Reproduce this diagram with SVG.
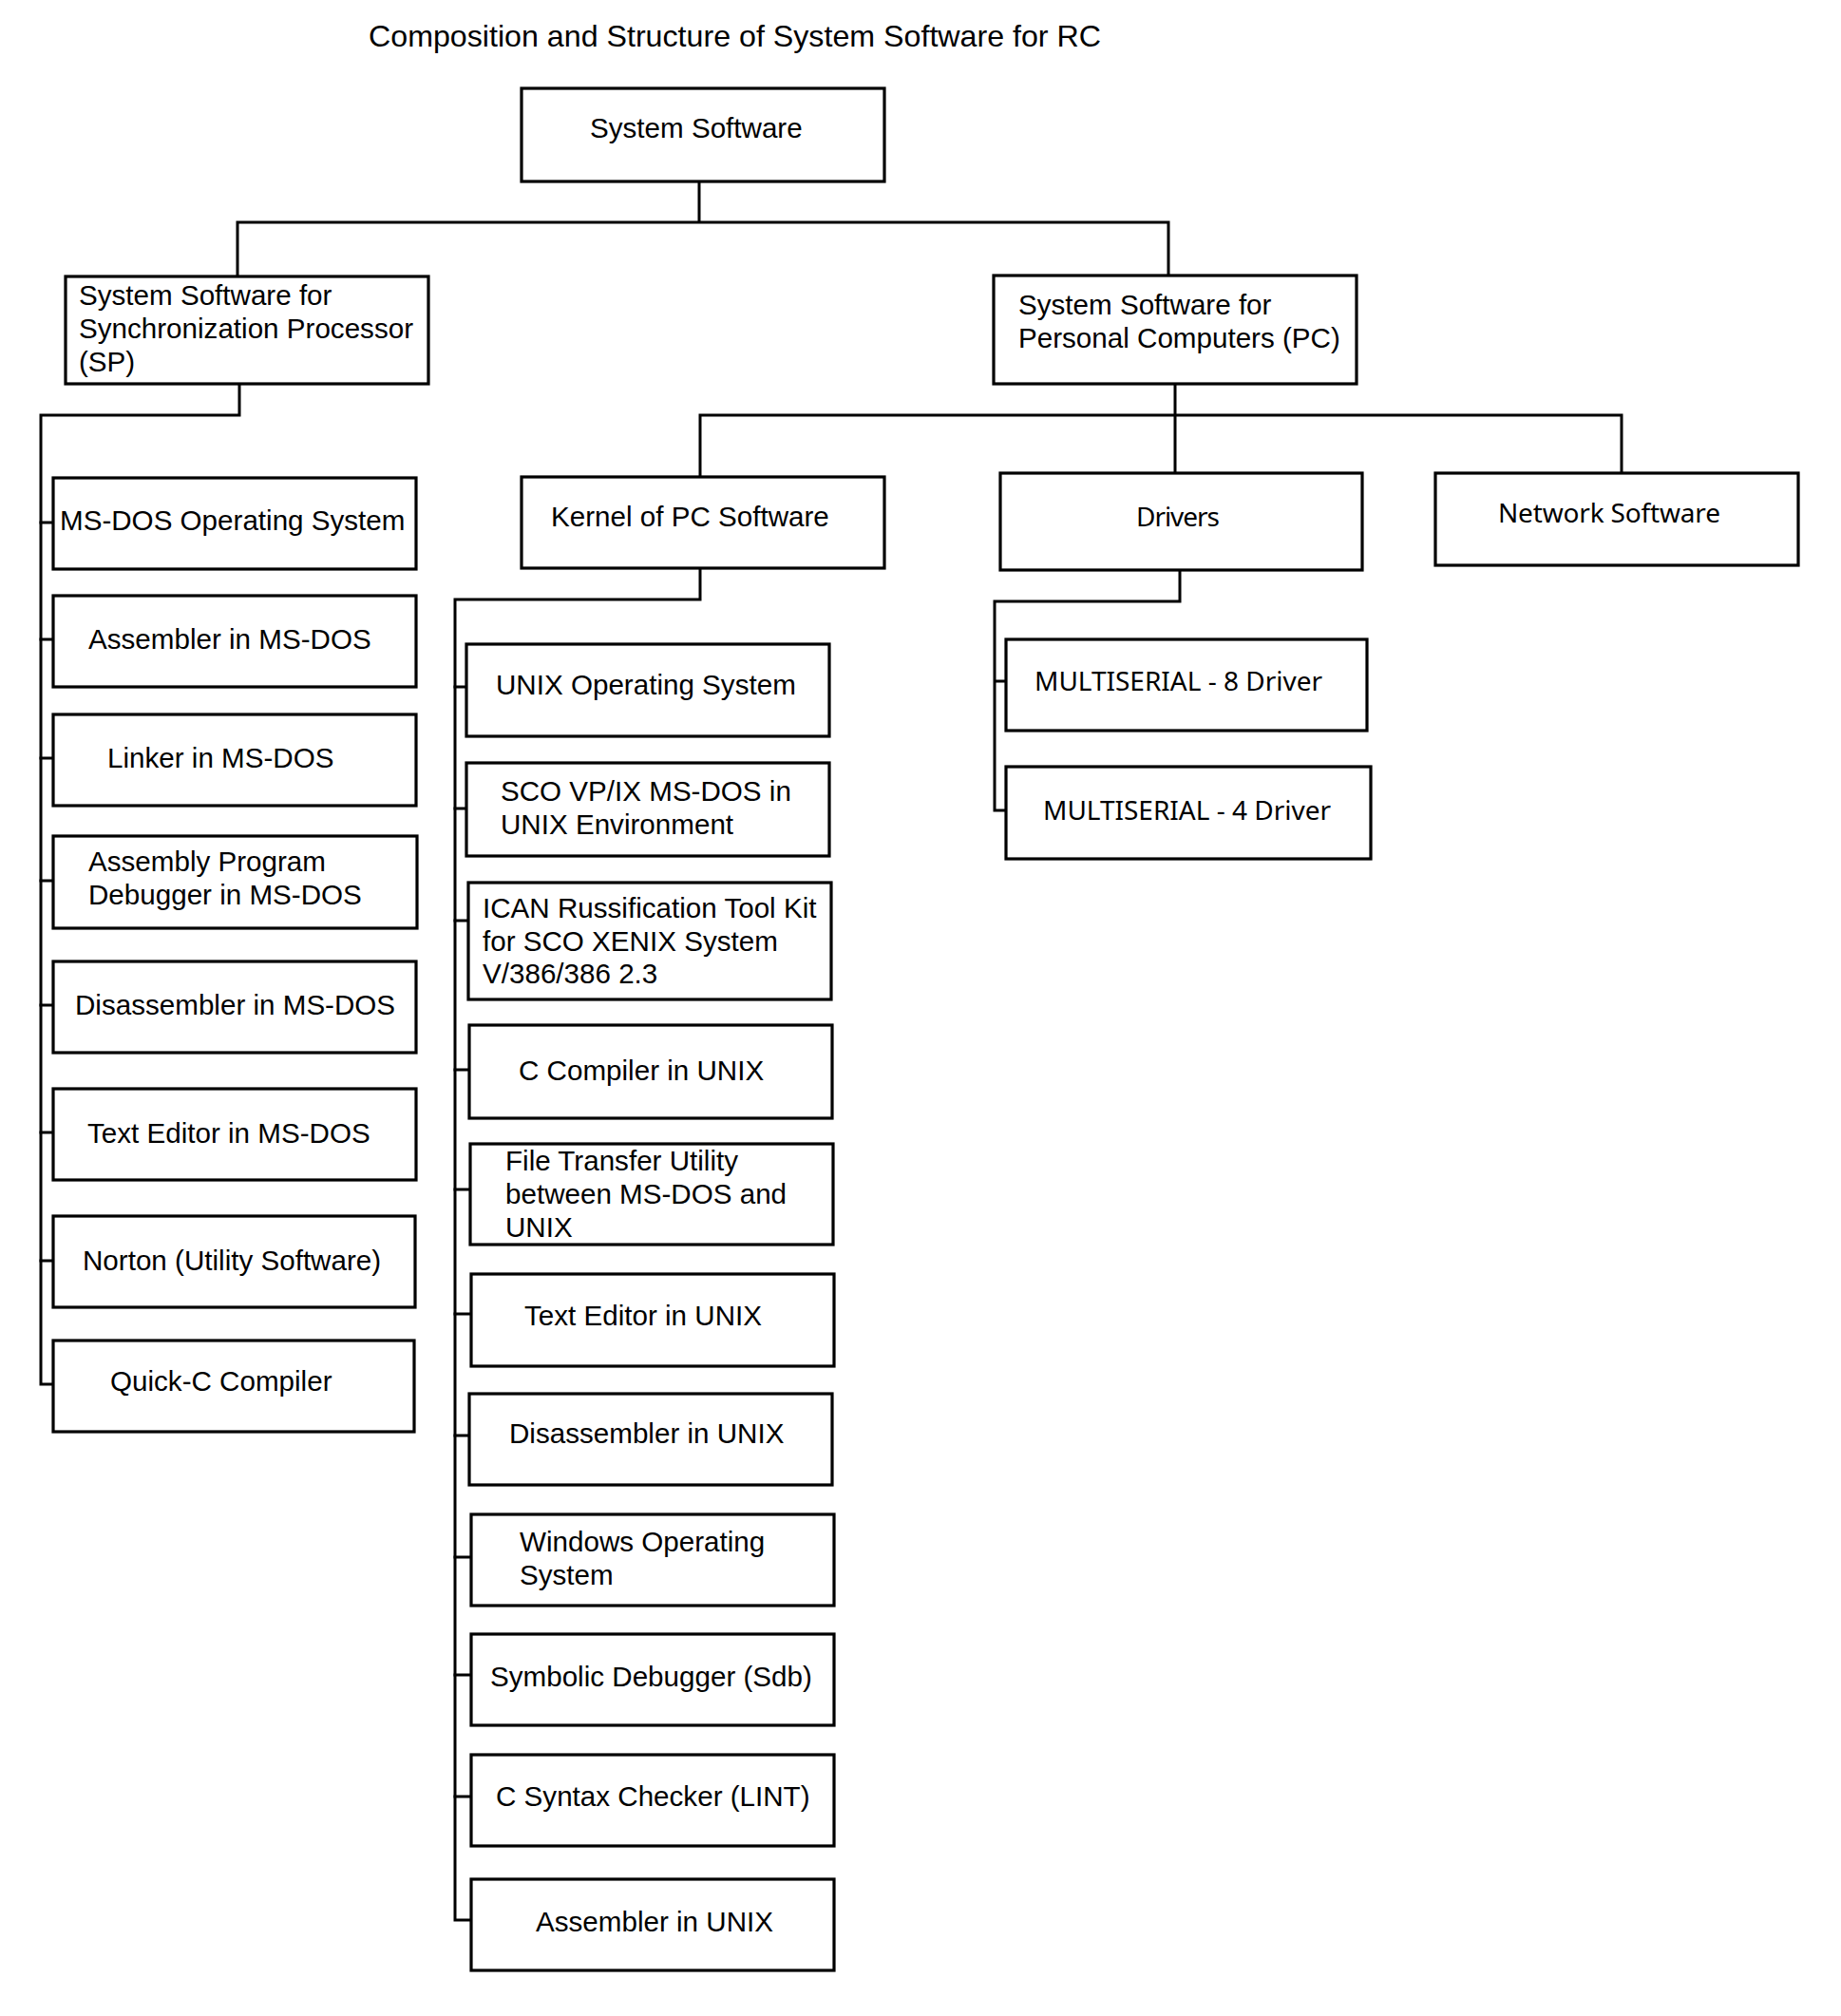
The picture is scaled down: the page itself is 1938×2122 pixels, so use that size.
<svg xmlns="http://www.w3.org/2000/svg" width="1938" height="2122" viewBox="0 0 1938 2122">
<style>
.box{fill:#fff;stroke:#000;stroke-width:3.2}
.ln{fill:none;stroke:#000;stroke-width:3;stroke-linejoin:miter;stroke-linecap:square}
.t{font-family:"Liberation Sans",Arial,sans-serif;font-size:29.6px;fill:#000}
.s{font-family:"Noto Sans","Open Sans",sans-serif;font-size:28px;fill:#000}
.title{font-family:"Liberation Sans",Arial,sans-serif;font-size:32.2px;fill:#000}
</style>
<rect width="1938" height="2122" fill="#fff"/>
<text class="title" x="388" y="49">Composition and Structure of System Software for RC</text>
<g id="connectors">
<path class="ln" d="M736 191V234M250 234H1230M250 234V291M1230 234V290"/>
<path class="ln" d="M252 404V437H43V1457H56"/>
<path class="ln" d="M43 550H56M43 673H56M43 798H56M43 927H56M43 1058H56M43 1192H56M43 1327H56"/>
<path class="ln" d="M1237 404V498M737 437H1707M737 437V502M1707 437V498"/>
<path class="ln" d="M737 598V631H479V2021H496"/>
<path class="ln" d="M479 723H491M479 851H491M479 969H493M479 1126H494M479 1252H495M479 1383H496M479 1511H494M479 1639H496M479 1763H496M479 1891H496"/>
<path class="ln" d="M1242 600V633H1047V853H1059M1047 717H1059"/>
</g>
<g id="n-system"><rect class="box" x="549" y="93" width="382" height="98"/><text class="t" x="621" y="145">System Software</text></g>
<g id="n-sp"><rect class="box" x="69" y="291" width="382" height="113"/><text class="t" x="83" y="321">System Software for</text><text class="t" x="83" y="356">Synchronization Processor</text><text class="t" x="83" y="391">(SP)</text></g>
<g id="n-pc"><rect class="box" x="1046" y="290" width="382" height="114"/><text class="t" x="1072" y="331">System Software for</text><text class="t" x="1072" y="366">Personal Computers (PC)</text></g>
<g id="n-kernel"><rect class="box" x="549" y="502" width="382" height="96"/><text class="t" x="580" y="554">Kernel of PC Software</text></g>
<g id="n-drivers"><rect class="box" x="1053" y="498" width="381" height="102"/><text class="s" x="1196" y="554" textLength="88">Drivers</text></g>
<g id="n-network"><rect class="box" x="1511" y="498" width="382" height="97"/><text class="s" x="1577" y="550" textLength="234">Network Software</text></g>
<g id="n-msdos"><rect class="box" x="56" y="503" width="382" height="96"/><text class="t" x="63" y="558">MS-DOS Operating System</text></g>
<g id="n-asm-dos"><rect class="box" x="56" y="627" width="382" height="96"/><text class="t" x="93" y="683">Assembler in MS-DOS</text></g>
<g id="n-linker"><rect class="box" x="56" y="752" width="382" height="96"/><text class="t" x="113" y="808">Linker in MS-DOS</text></g>
<g id="n-debug-dos"><rect class="box" x="56" y="880" width="383" height="97"/><text class="t" x="93" y="917">Assembly Program</text><text class="t" x="93" y="952">Debugger in MS-DOS</text></g>
<g id="n-disasm-dos"><rect class="box" x="56" y="1012" width="382" height="96"/><text class="t" x="79" y="1068">Disassembler in MS-DOS</text></g>
<g id="n-edit-dos"><rect class="box" x="56" y="1146" width="382" height="96"/><text class="t" x="92" y="1203">Text Editor in MS-DOS</text></g>
<g id="n-norton"><rect class="box" x="56" y="1280" width="381" height="96"/><text class="t" x="87" y="1337">Norton (Utility Software)</text></g>
<g id="n-quickc"><rect class="box" x="56" y="1411" width="380" height="96"/><text class="t" x="116" y="1464">Quick-C Compiler</text></g>
<g id="n-unix"><rect class="box" x="491" y="678" width="382" height="97"/><text class="t" x="522" y="731">UNIX Operating System</text></g>
<g id="n-sco"><rect class="box" x="491" y="803" width="382" height="98"/><text class="t" x="527" y="843">SCO VP/IX MS-DOS in</text><text class="t" x="527" y="878">UNIX Environment</text></g>
<g id="n-ican"><rect class="box" x="493" y="929" width="382" height="123"/><text class="t" x="508" y="966">ICAN Russification Tool Kit</text><text class="t" x="508" y="1001">for SCO XENIX System</text><text class="t" x="508" y="1035">V/386/386 2.3</text></g>
<g id="n-cc"><rect class="box" x="494" y="1079" width="382" height="98"/><text class="t" x="546" y="1137">C Compiler in UNIX</text></g>
<g id="n-ftu"><rect class="box" x="495" y="1204" width="382" height="106"/><text class="t" x="532" y="1232">File Transfer Utility</text><text class="t" x="532" y="1267">between MS-DOS and</text><text class="t" x="532" y="1302">UNIX</text></g>
<g id="n-edit-unix"><rect class="box" x="496" y="1341" width="382" height="97"/><text class="t" x="552" y="1395">Text Editor in UNIX</text></g>
<g id="n-disasm-unix"><rect class="box" x="494" y="1467" width="382" height="96"/><text class="t" x="536" y="1519">Disassembler in UNIX</text></g>
<g id="n-windows"><rect class="box" x="496" y="1594" width="382" height="96"/><text class="t" x="547" y="1633">Windows Operating</text><text class="t" x="547" y="1668">System</text></g>
<g id="n-sdb"><rect class="box" x="496" y="1720" width="382" height="96"/><text class="t" x="516" y="1775">Symbolic Debugger (Sdb)</text></g>
<g id="n-lint"><rect class="box" x="496" y="1847" width="382" height="96"/><text class="t" x="522" y="1901">C Syntax Checker (LINT)</text></g>
<g id="n-asm-unix"><rect class="box" x="496" y="1978" width="382" height="96"/><text class="t" x="564" y="2033">Assembler in UNIX</text></g>
<g id="n-ms8"><rect class="box" x="1059" y="673" width="380" height="96"/><text class="s" x="1089" y="727" textLength="303">MULTISERIAL - 8 Driver</text></g>
<g id="n-ms4"><rect class="box" x="1059" y="807" width="384" height="97"/><text class="s" x="1098" y="863" textLength="303">MULTISERIAL - 4 Driver</text></g>
</svg>
